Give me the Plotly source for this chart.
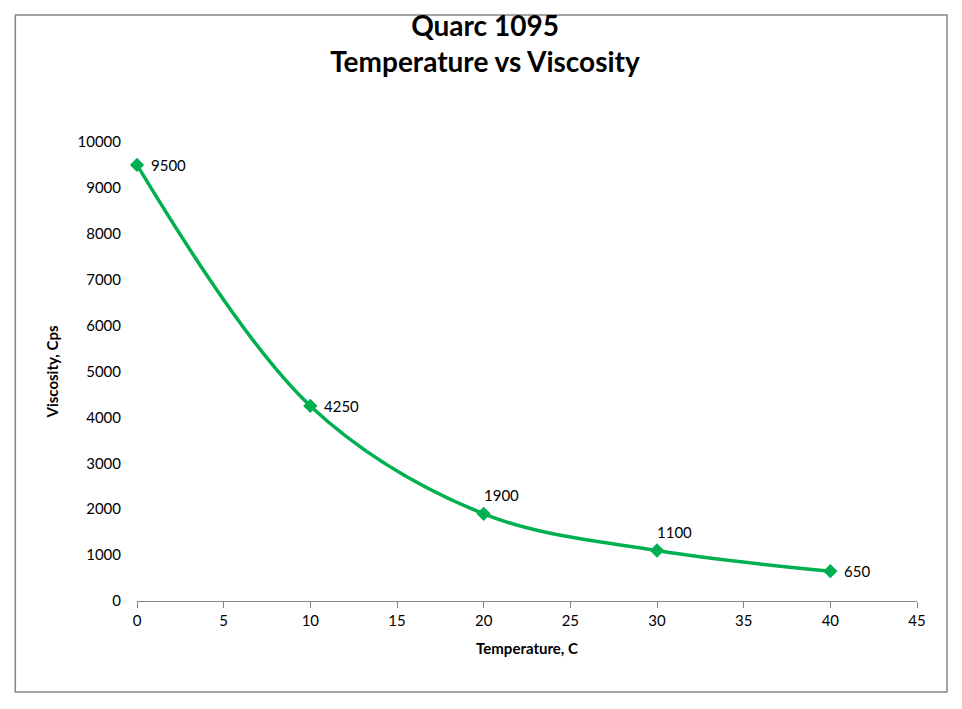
import plotly.graph_objects as go

temperature = [0, 10, 20, 30, 40]
viscosity = [9500, 4250, 1900, 1100, 650]
label_pos = ["right", "right", "top", "top", "right"]

green = "#00B050"
font = "Lato"

fig = go.Figure()
fig.add_trace(go.Scatter(x=temperature, y=viscosity, mode="lines+markers",
                         line=dict(color=green, width=3.5, shape="spline", smoothing=1.0),
                         marker=dict(symbol="diamond", size=11, color=green),
                         showlegend=False, cliponaxis=False))

for t, v, p in zip(temperature, viscosity, label_pos):
    if p == "right":
        fig.add_annotation(x=t, y=v, text=str(v), showarrow=False, xanchor="left",
                           xshift=12, font=dict(size=15, color="black", family=font))
    else:
        fig.add_annotation(x=t, y=v, text=str(v), showarrow=False, xanchor="left",
                           yanchor="bottom", xshift=-2, yshift=8,
                           font=dict(size=15, color="black", family=font))

# page has 8px body margin, so the figure is shrunk by that amount
fig.update_layout(
    width=954, height=701,
    margin=dict(l=129, r=45, t=134, b=108),
    plot_bgcolor="white", paper_bgcolor="white",
    font=dict(family=font, color="black", size=15),
    title=dict(text="<b>Quarc 1095<br>Temperature vs Viscosity</b>", x=0.5, xanchor="center",
               y=0.96, yanchor="top", font=dict(size=28, family=font, color="black")),
    xaxis=dict(range=[0, 45], dtick=5, showgrid=False, zeroline=False, showline=True,
               linecolor="#868686", ticks="outside", tickcolor="#868686", ticklen=6,
               title=dict(text="<b>Temperature, C</b>", font=dict(size=15)),
               tickfont=dict(size=15)),
    yaxis=dict(range=[0, 10000], dtick=1000, tickformat="d", showgrid=False, zeroline=False,
               showline=False, ticks="outside", tickcolor="white", ticklen=12,
               title=dict(text="<b>Viscosity, Cps</b>", font=dict(size=15)),
               tickfont=dict(size=15)),
    shapes=[dict(type="rect", xref="paper", yref="paper", x0=-0.156, x1=1.0385,
                 y0=-0.198, y1=1.2767, line=dict(color="#868686", width=1.5))],
)

fig.write_html("out.html")
